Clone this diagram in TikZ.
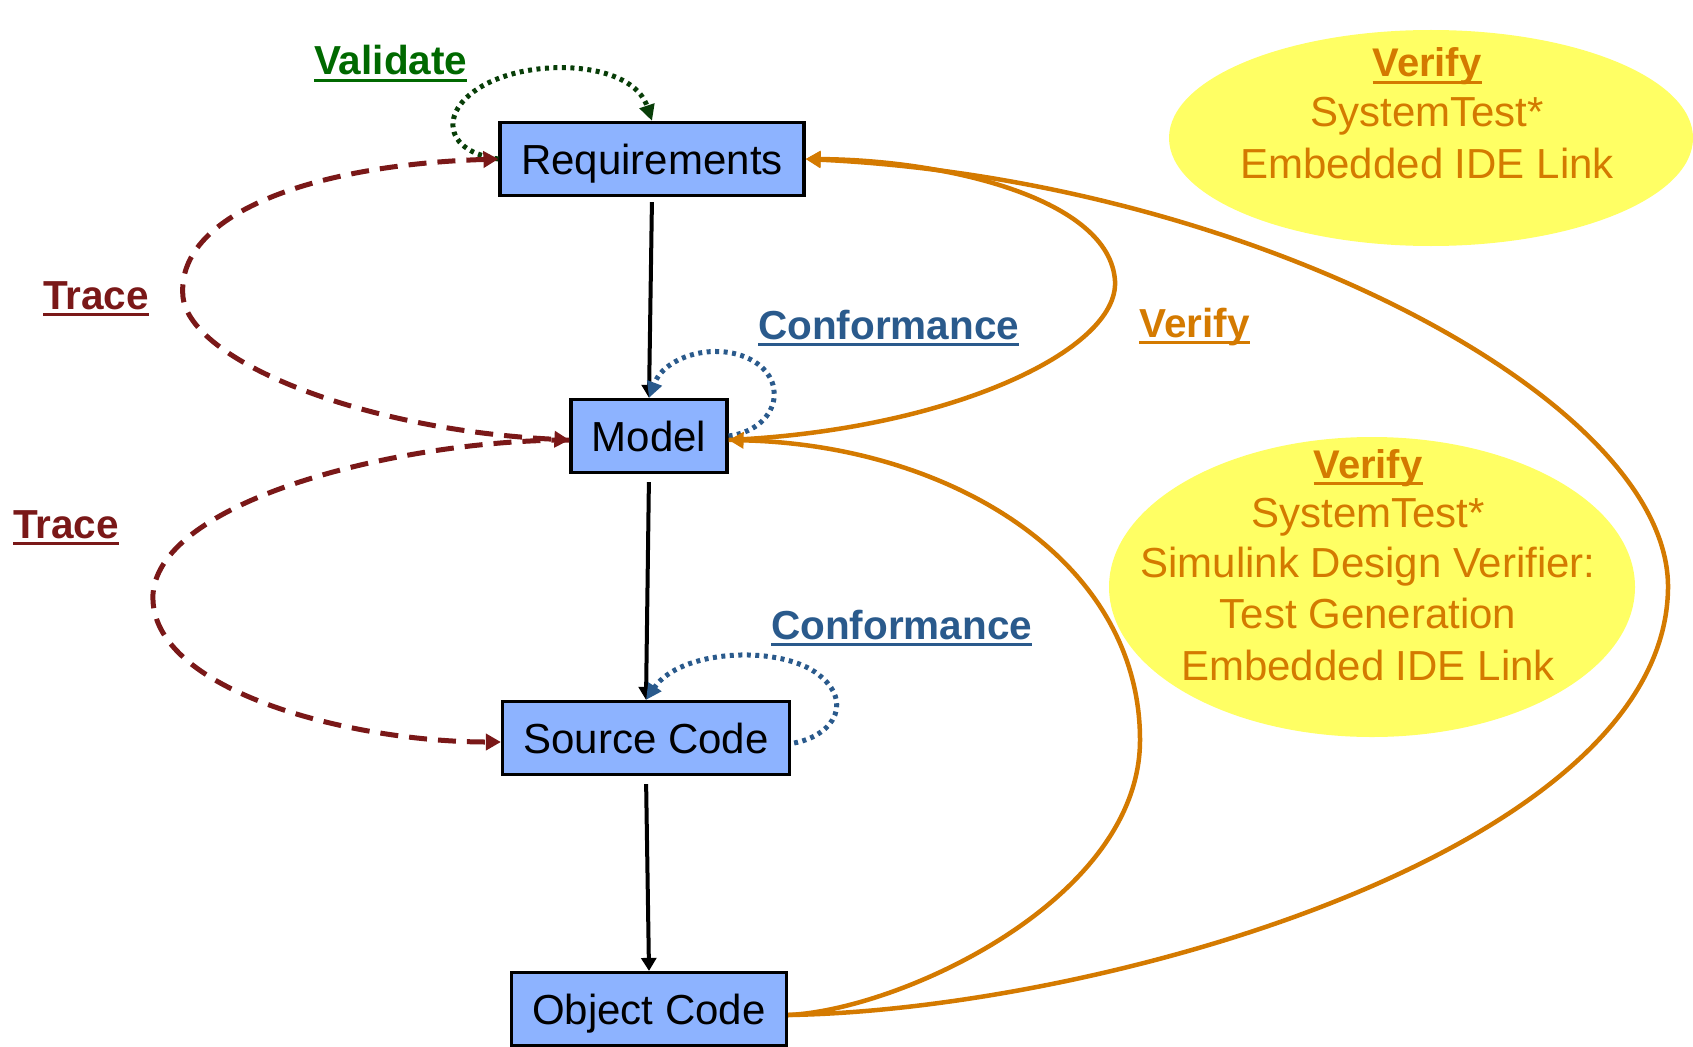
\documentclass[tikz,border=0pt]{standalone}
\usepackage{fontspec}
\setmainfont{Liberation Sans}
\usetikzlibrary{arrows.meta,shapes.geometric}
\definecolor{boxblue}{RGB}{141,179,255}
\definecolor{ellyellow}{RGB}{255,255,100}
\definecolor{vorange}{RGB}{212,122,0}
\definecolor{valgreen}{RGB}{0,105,0}
\definecolor{valdark}{RGB}{8,62,8}
\definecolor{tracered}{RGB}{122,24,24}
\definecolor{confblue}{RGB}{42,90,140}
\newcommand\myul[1]{\setbox0\hbox{#1}\rlap{\rule[-0.17em]{\wd0}{0.07em}}\box0}
\begin{document}
\begin{tikzpicture}[x=1pt,y=-1pt,
  box/.style={draw=black, line width=3.2pt, fill=boxblue, minimum height=73pt, inner sep=0pt, text depth=0pt, font=\fontsize{42}{50}\selectfont},
  lab/.style={anchor=base west, inner sep=0pt, font=\fontsize{40.5}{48}\selectfont\bfseries},
  etext/.style={anchor=base, inner sep=0pt, text=vorange, font=\fontsize{42}{50}\selectfont},
  ehead/.style={anchor=base, inner sep=0pt, text=vorange, font=\fontsize{40}{48}\selectfont\bfseries},
  ell/.style={ellipse, fill=ellyellow, inner sep=0pt},
  blk/.style={draw=black, line width=4pt, -{Triangle[length=13pt,width=15pt]}},
  trace/.style={draw=tracered, line width=5pt, dash pattern=on 18pt off 11pt},
  dotg/.style={draw=valdark, line width=5pt, dash pattern=on 4pt off 4.5pt},
  dotb/.style={draw=confblue, line width=5pt, dash pattern=on 4pt off 4.5pt},
  orng/.style={draw=vorange, line width=4.5pt},
  tip/.tip={Triangle[length=15pt,width=16pt]}
]
\useasboundingbox (0,0) rectangle (1693,1046);

% ellipses
\node[ell, minimum width=524pt, minimum height=216pt] (e1) at (1431,138) {};
\node[ell, minimum width=526pt, minimum height=300pt] (e2) at (1372,587) {};
\node[ehead] (e1a) at (1427,77) {\myul{Verify}};
\node[etext] (e1b) at (1427,127) {SystemTest*};
\node[etext] (e1c) at (1427,178) {Embedded IDE Link};
\node[ehead] (e2a) at (1368,478) {\myul{Verify}};
\node[etext] (e2b) at (1368,527) {SystemTest*};
\node[etext] (e2c) at (1368,577) {Simulink Design Verifier:};
\node[etext] (e2d) at (1368,628) {Test Generation};
\node[etext] (e2e) at (1368,680) {Embedded IDE Link};

% boxes
\node[box, minimum width=304pt] (req) at (652,159) {Requirements};
\node[box, minimum width=156pt] (model) at (649,436) {Model};
\node[box, minimum width=287pt] (src) at (646,738) {Source Code};
\node[box, minimum width=275pt] (obj) at (649,1009) {Object Code};

% labels
\node[lab, text=valgreen] (lval) at (314,75) {\myul{Validate}};
\node[lab, text=tracered] (ltr1) at (43,309) {\myul{Trace}};
\node[lab, text=tracered] (ltr2) at (13,538) {\myul{Trace}};
\node[lab, text=confblue] (lc1) at (758,339) {\myul{Conformance}};
\node[lab, text=confblue] (lc2) at (771,639) {\myul{Conformance}};
\node[lab, text=vorange] (lv) at (1139,337) {\myul{Verify}};

% black flow
\draw[blk, shorten <=5pt] (req.south) -- (model.north);
\draw[blk, shorten <=8pt] (model.south) -- (src.north);
\draw[blk, shorten <=8pt] (src.south) -- (obj.north);

% validate loop
\draw[dotg, -{Triangle[length=16pt,width=15pt]}] (req.west)
  .. controls (430,150) and (440,90) .. (520,72)
  .. controls (570,61) and (635,70) .. (req.north);

% conformance loops
\draw[dotb, -{Triangle[length=16pt,width=15pt]}] (model.east)
  .. controls (775,430) and (790,385) .. (755,362)
  .. controls (720,340) and (665,355) .. (model.north);
\draw[dotb, -{Triangle[length=16pt,width=15pt]}] ([xshift=3pt,yshift=-5pt]src.east)
  .. controls (835,735) and (855,700) .. (815,672)
  .. controls (775,645) and (680,650) .. (src.north);

% trace curves
\draw[trace, tip-tip] (req.west)
  .. controls (310,165) and (175,215) .. (183,297)
  .. controls (190,360) and (360,430) .. ([yshift=-4pt]model.west);
\draw[trace, -tip] ([yshift=-4pt]model.west)
  .. controls (400,440) and (160,500) .. (153,594)
  .. controls (148,690) and (350,742) .. ([yshift=-4pt]src.west);

% verify curves
\draw[orng, -tip] ([yshift=-4pt]model.east)
  .. controls (950,430) and (1119,350) .. (1115,281)
  .. controls (1110,200) and (950,160) .. (req.east);
\draw[orng, -tip] ([yshift=-6pt]obj.east)
  .. controls (900,1010) and (1140,900) .. (1140,740)
  .. controls (1140,560) and (950,445) .. ([yshift=-4pt]model.east);
\draw[orng, -tip] ([yshift=-6pt]obj.east)
  .. controls (1100,1010) and (1665,850) .. (1668,588)
  .. controls (1670,400) and (1250,180) .. (req.east);
\end{tikzpicture}
\end{document}
